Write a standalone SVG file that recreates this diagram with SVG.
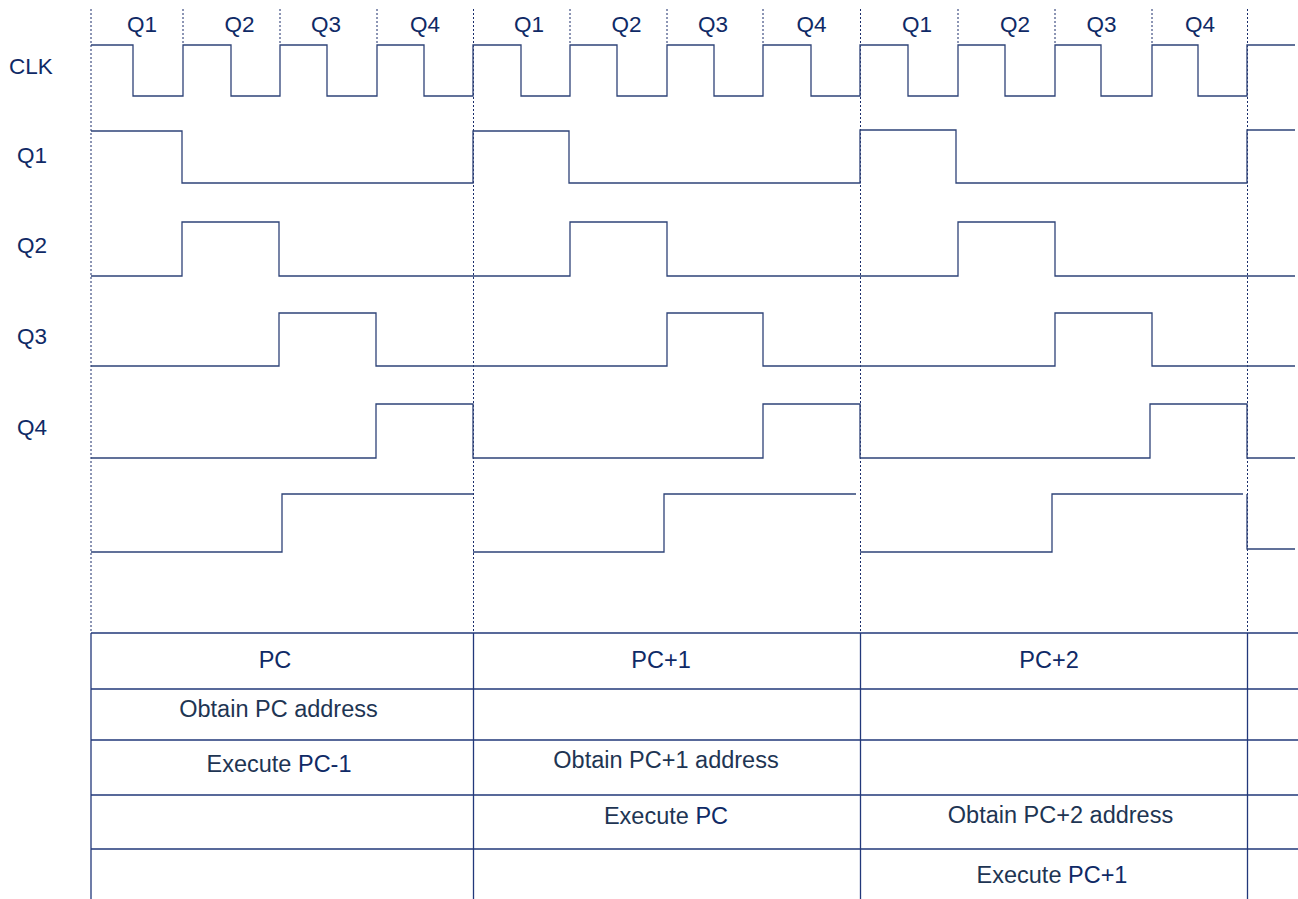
<svg xmlns="http://www.w3.org/2000/svg" width="1298" height="899" viewBox="0 0 1298 899">
<style>
.sig{fill:none;stroke:#2e4378;stroke-width:1.3;stroke-linejoin:miter}
.dash{fill:none;stroke:#1a2d6b;stroke-width:1;stroke-dasharray:2 2}
.grid{fill:none;stroke:#22387a;stroke-width:1.3}
.lbl{font-family:"Liberation Sans",Arial,sans-serif;font-size:22.5px;fill:#0f2a66}
.cell{font-family:"Liberation Sans",Arial,sans-serif;font-size:23.5px;fill:#1e3553;text-anchor:middle}
.nv{fill:#0f2a66}
</style>
<rect width="1298" height="899" fill="#ffffff"/>
<g id="guides">
<path class="dash" d="M91,9V633M473.5,9V633M860.5,9V633M1247.5,9V633"/>
<path class="dash" d="M183,9V45M280,9V45M377,9V45M570,9V45M667,9V45M763,9V45M958,9V45M1055,9V45M1152,9V45"/>
</g>
<g id="labels">
<text class="lbl" x="9" y="74" font-size="24">CLK</text>
<text class="lbl" x="17" y="163">Q1</text>
<text class="lbl" x="17" y="253">Q2</text>
<text class="lbl" x="17" y="344">Q3</text>
<text class="lbl" x="17" y="435">Q4</text>
</g>
<g id="phase-labels" class="lbl" text-anchor="middle">
<text x="142" y="32">Q1</text><text x="239.5" y="32">Q2</text><text x="326" y="32">Q3</text><text x="425" y="32">Q4</text>
<text x="529" y="32">Q1</text><text x="626.5" y="32">Q2</text><text x="713" y="32">Q3</text><text x="811.5" y="32">Q4</text>
<text x="917" y="32">Q1</text><text x="1015" y="32">Q2</text><text x="1101.5" y="32">Q3</text><text x="1200" y="32">Q4</text>
</g>
<g id="sig-clk"><path class="sig" d="M91,45H133V96H183V45H231V96H280V45H327V96H377V45H424V96H473V45H521V96H570V45H617V96H667V45H714V96H763V45H811V96H860V45H908V96H958V45H1005V96H1055V45H1101V96H1152V45H1198V96H1247V45H1295"/></g>
<g id="sig-q1"><path class="sig" d="M91,131H182V183H473V131H569V183H860V130H956V183H1247V130H1295"/></g>
<g id="sig-q2"><path class="sig" d="M91,276H182V222H279V276H570V222H667V276H958V222H1055V276H1295"/></g>
<g id="sig-q3"><path class="sig" d="M91,366H279V313H376V366H667V313H763V366H1055V313H1152V366H1295"/></g>
<g id="sig-q4"><path class="sig" d="M91,458H376V404H473V458H763V404H860V458H1150V404H1247V458H1295"/></g>
<g id="sig-6"><path class="sig" d="M91,552H282V494H473M473,552H664V494H856M860,552H1052V494H1243M1247,494V549H1295"/></g>
<g id="table">
<path class="grid" d="M91,633H1298M91,689H1298M91,740H1298M91,795H1298M91,849H1298M91,633V899M473.5,633V899M860.5,633V899M1247.5,633V899"/>
<text class="cell nv" x="275" y="668">PC</text>
<text class="cell" x="278.5" y="717">Obtain PC address</text>
<text class="cell" x="279" y="772">Execute <tspan class="nv">PC-1</tspan></text>
<text class="cell nv" x="661" y="668">PC+1</text>
<text class="cell" x="666" y="768">Obtain PC+1 address</text>
<text class="cell" x="666" y="824">Execute <tspan class="nv">PC</tspan></text>
<text class="cell nv" x="1049" y="668">PC+2</text>
<text class="cell" x="1060.5" y="823">Obtain PC+2 address</text>
<text class="cell" x="1052" y="883">Execute <tspan class="nv">PC+1</tspan></text>
</g>
</svg>
